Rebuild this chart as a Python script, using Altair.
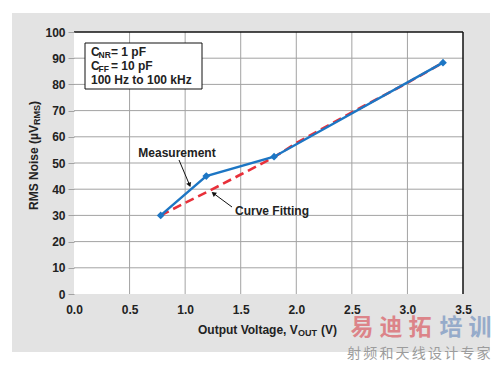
import altair as alt
import pandas as pd

# ---- data ----
meas_v = [0.78, 1.19, 1.80, 3.32]
meas_n = [30.0, 45.0, 52.4, 88.3]
fit_v = [0.78, 1.0, 1.2, 1.5, 1.8, 2.0, 2.5, 3.0, 3.32]
fit_n = [30.0, 34.8, 39.0, 45.6, 52.2, 57.6, 69.3, 80.6, 88.3]
x_ticks = [0.0, 0.5, 1.0, 1.5, 2.0, 2.5, 3.0, 3.5]
y_ticks = [0, 10, 20, 30, 40, 50, 60, 70, 80, 90, 100]
wm_big_red = ["易", "迪", "拓"]
wm_big_blue = ["培", "训"]
wm_small = list("射频和天线设计专家")

FONT = "Liberation Sans"
BLUE = "#1d76c4"
RED = "#e8303a"
GRID = "#a3a3a3"
TXT = "#222222"
PANEL = "#e3e3e3"

xs = alt.Scale(domain=[0, 3.5], nice=False, zero=False)
ys = alt.Scale(domain=[0, 100], nice=False, zero=False)
x_axis = alt.Axis(values=x_ticks, format=".1f", grid=False, ticks=True, tickSize=0,
                  domain=False, labelFont=FONT, labelFontWeight="bold", labelFontSize=12,
                  labelColor=TXT, labelPadding=10, labelFlush=False, title=None, zindex=1)
y_axis = alt.Axis(values=y_ticks, format="d", grid=False, ticks=True, tickSize=6,
                  tickColor=GRID, domain=False, labelFont=FONT, labelFontWeight="bold",
                  labelFontSize=12, labelColor=TXT, labelPadding=3, labelFlush=False,
                  title=None, zindex=1)

def X(f="v"):
    return alt.X(f + ":Q", scale=xs, axis=x_axis)

def Y(f="n"):
    return alt.Y(f + ":Q", scale=ys, axis=y_axis)

one = pd.DataFrame({"a": [0]})
meas = pd.DataFrame({"v": meas_v, "n": meas_n})
fit = pd.DataFrame({"v": fit_v, "n": fit_n})
gx = pd.DataFrame({"v": x_ticks[1:-1]})
gy = pd.DataFrame({"n": y_ticks[1:-1]})
top = pd.DataFrame({"n": [y_ticks[-1]]})
right = pd.DataFrame({"v": [x_ticks[-1]]})

def box(x, x2, y, y2, fill, stroke=None, sw=0):
    kw = dict(color=fill, fill=fill, filled=True, opacity=1)
    if stroke:
        kw.update(stroke=stroke, strokeWidth=sw)
    return alt.Chart(one).mark_rect(**kw).encode(
        x=alt.value(x), x2=alt.value(x2), y=alt.value(y), y2=alt.value(y2))

def txt(s, x, y, size=12, weight="bold", align="left", color=TXT, angle=0, font=FONT, opacity=1.0):
    return alt.Chart(one).mark_text(text=s, fontSize=size, fontWeight=weight, align=align,
                                    baseline="middle", color=color, angle=angle, font=font,
                                    opacity=opacity).encode(
        x=alt.value(x), y=alt.value(y))

def line(x, y, x2, y2):
    return alt.Chart(one).mark_rule(color="#111111", strokeWidth=1).encode(
        x=alt.value(x), y=alt.value(y), x2=alt.value(x2), y2=alt.value(y2))

def head(x, y, ang):
    return alt.Chart(one).mark_point(shape="triangle-up", filled=True, size=28, angle=ang,
                                     color="#111111", opacity=1).encode(
        x=alt.value(x), y=alt.value(y))

panel = box(-62, 416, -19, 320, PANEL)
plotbg = box(0, 389, 0, 262, "#ffffff")

vgrid = alt.Chart(gx).mark_rule(color=GRID, strokeWidth=1).encode(x=X())
hgrid = alt.Chart(gy).mark_rule(color=GRID, strokeWidth=1).encode(y=Y())
topline = alt.Chart(top).mark_rule(color="#111111", strokeWidth=1.5).encode(y=Y())
rightline = alt.Chart(right).mark_rule(color="#111111", strokeWidth=1.5).encode(x=X())

fit_line = alt.Chart(fit).mark_line(color=RED, strokeWidth=2.6, strokeDash=[9, 5]).encode(
    x=X(), y=Y(), order="v:Q")
meas_line = alt.Chart(meas).mark_line(color=BLUE, strokeWidth=2.4).encode(
    x=X(), y=Y(), order="v:Q")
meas_pts = alt.Chart(meas).mark_point(shape="diamond", filled=True, size=60, color=BLUE,
                                      opacity=1).encode(x=X(), y=Y())

annots = [
    txt("Measurement", 103, 121, align="center"),
    line(105, 128, 116, 154),
    head(115.5, 153, 158),
    txt("Curve Fitting", 161, 179),
    line(158, 175, 139, 161),
    head(139.5, 161.5, 307),
]

legend_box = [
    box(11, 128, 11, 57, "#ffffff", "#111111", 1),
    txt("C", 17, 20),
    txt("NR", 24.5, 23, size=8.5),
    txt("= 1 pF", 37, 20),
    txt("C", 17, 34),
    txt("FF", 24.5, 37, size=8.5),
    txt("= 10 pF", 37, 34),
    txt("100 Hz to 100 kHz", 17, 48),
]

titles = [
    txt("Output Voltage, V", 124, 298),
    txt("OUT", 224, 301, size=9),
    txt("(V)", 247, 298),
    txt("RMS Noise (\u00b5V", -40, 178, angle=270),
    txt("RMS", -37, 93, size=9, angle=270),
    txt(")", -40, 73, angle=270),
]

cjk = "Noto Sans CJK SC"
watermark = []
for i, ch in enumerate(wm_big_red):
    watermark.append(txt(ch, 288 + 29 * i, 296, size=23, align="center", color="#dc7a80",
                         font=cjk, opacity=0.9))
for i, ch in enumerate(wm_big_blue):
    watermark.append(txt(ch, 377 + 29 * i, 296, size=23, align="center", color="#8ea6c8",
                         font=cjk, opacity=0.9))
for i, ch in enumerate(wm_small):
    watermark.append(txt(ch, 280 + 16.2 * i, 322, size=14, weight="normal", align="center",
                         color="#9c9c9c", font=cjk))

chart = alt.layer(
    panel, plotbg, vgrid, hgrid, topline, rightline,
    fit_line, meas_line, meas_pts,
    *annots, *legend_box, *titles, *watermark
).properties(
    width=389, height=262,
    autosize="none",
    padding={"left": 66, "top": 24, "right": 29, "bottom": 66},
).configure(background="#ffffff").configure_view(stroke=None)

chart.save("out.html", embed_options={"renderer": "svg", "actions": False})
